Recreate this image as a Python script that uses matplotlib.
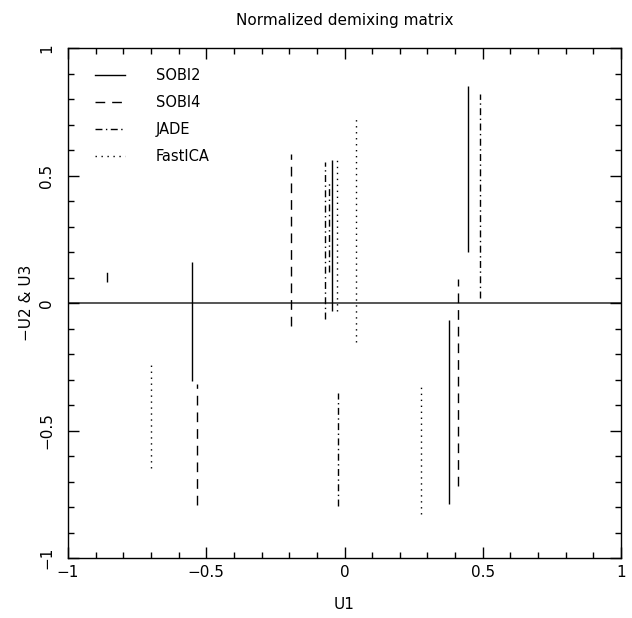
import matplotlib
matplotlib.use("Agg")
import matplotlib.pyplot as plt
from matplotlib.ticker import MultipleLocator

# One vertical segment per component
methods = ["SOBI2", "SOBI4", "JADE", "FastICA"]
u1 = {
    "SOBI2": [-0.553, -0.046, 0.448, 0.379],
    "SOBI4": [-0.860, -0.533, -0.195, 0.409],
    "JADE": [-0.072, -0.057, 0.490, -0.025],
    "FastICA": [-0.700, -0.026, 0.040, 0.277],
}
u_top = {
    "SOBI2": [0.162, 0.562, 0.852, -0.065],
    "SOBI4": [0.146, -0.318, 0.584, 0.094],
    "JADE": [0.552, 0.480, 0.820, -0.353],
    "FastICA": [-0.243, 0.571, 0.730, -0.314],
}
u_bot = {
    "SOBI2": [-0.305, -0.030, 0.199, -0.788],
    "SOBI4": [0.084, -0.790, -0.089, -0.716],
    "JADE": [-0.063, 0.120, 0.018, -0.795],
    "FastICA": [-0.646, -0.030, -0.154, -0.827],
}

styles = {
    "SOBI2": "-",
    "SOBI4": (0, (7, 5)),
    "JADE": (0, (5, 2.5, 1, 2.5)),
    "FastICA": (0, (1, 3.3)),
}

fig = plt.figure(figsize=(6.32, 6.18), dpi=100)
ax = fig.add_axes([0.1076, 0.097, 0.875, 0.8253])

ax.axhline(0, color="#555555", lw=1.4, zorder=1)

for m in methods:
    ax.vlines(u1[m], u_bot[m], u_top[m], colors="black", linestyles=styles[m], lw=1.0, zorder=2)

# legend drawn by hand, PGPLOT style
for i, m in enumerate(methods):
    yy = 0.947 - i * 0.053
    ax.plot([0.049, 0.103], [yy, yy], transform=ax.transAxes, color="black",
            ls=styles[m], lw=1.0)
    ax.text(0.159, yy, m, transform=ax.transAxes, fontsize=10.5, va="center", ha="left")

ax.set_xlim(-1, 1)
ax.set_ylim(-1, 1)
ax.xaxis.set_major_locator(MultipleLocator(0.5))
ax.xaxis.set_minor_locator(MultipleLocator(0.1))
ax.yaxis.set_major_locator(MultipleLocator(0.5))
ax.yaxis.set_minor_locator(MultipleLocator(0.1))
ax.tick_params(which="both", direction="in", top=True, right=True, width=1.0, labelsize=11)
ax.tick_params(which="major", length=8)
ax.tick_params(which="minor", length=4.5)
ax.tick_params(axis="x", which="major", pad=5)
ax.tick_params(axis="y", which="major", pad=10)
ax.set_xticks([-1, -0.5, 0, 0.5, 1])
ax.set_xticklabels(["\u22121", "\u22120.5", "0", "0.5", "1"])
ax.set_yticks([-1, -0.5, 0, 0.5, 1])
ax.set_yticklabels(["\u22121", "\u22120.5", "0", "0.5", "1"], rotation=90, va="center")
for s in ax.spines.values():
    s.set_linewidth(1.0)

ax.set_xlabel("U1", fontsize=11, labelpad=12)
ax.set_ylabel("\u2212U2 & U3", fontsize=11, labelpad=4)
fig.text(0.545, 0.967, "Normalized demixing matrix", ha="center", va="center", fontsize=11)

plt.savefig("out.png", dpi=100)
